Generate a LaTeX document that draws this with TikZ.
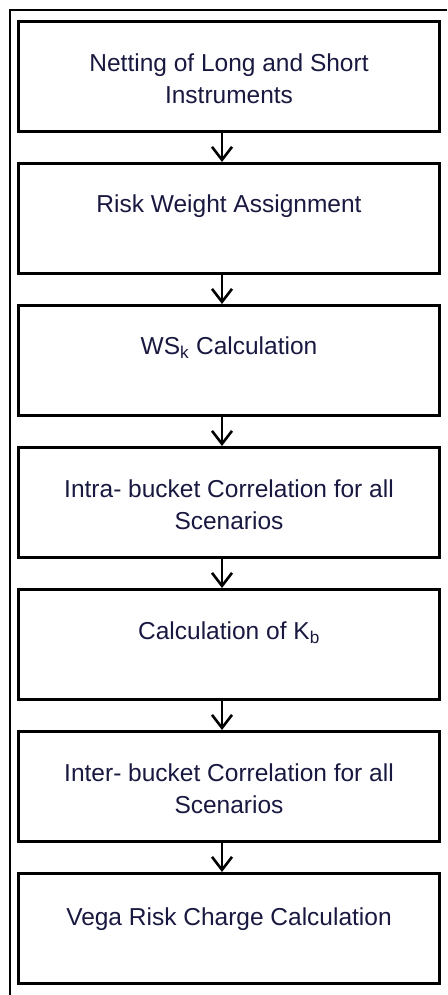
\documentclass[tikz,border=0pt]{standalone}
\usepackage{fontspec}
\setmainfont{Liberation Sans}
\usepackage{tikz}
\usetikzlibrary{
  % tips of the connectors
  arrows.meta,%
  positioning
}
\definecolor{textnavy}{RGB}{24,24,64}
\tikzset{>={Straight Barb[length=13pt,width=20pt,line width=2.6pt]}}
\tikzset{font=\fontsize{24.5}{32}\selectfont}
\tikzset{stepbox/.style={draw, line width=3pt, minimum width=421pt,
    minimum height=110pt, inner sep=0pt},
  steptext/.style={text=textnavy, align=center, inner sep=0pt},
  flowarrow/.style={->, line width=2pt}}

\begin{document}
\begin{tikzpicture}[x=1pt, y=-1pt]
          \useasboundingbox (0,0) rectangle (447,995);
          % outer frame, cut off at the right and at the bottom
          \draw[line width=2pt] (9.5,995) -- (9.5,10.5) -- (447,10.5);
          % the boxes
          \node[stepbox] (b1) at (229,76.5) {};
          \node[stepbox, below=29pt of b1] (b2) {};
          \node[stepbox, below=29pt of b2] (b3) {};
          \node[stepbox, below=29pt of b3] (b4) {};
          \node[stepbox, below=29pt of b4] (b5) {};
          \node[stepbox, below=29pt of b5] (b6) {};
          \node[stepbox, below=29pt of b6] (b7) {};
          % texts, set at the top of each box
          \node[steptext, below=34pt of b1.north] (t1) {Netting of Long and Short\\Instruments};
          \node[steptext, below=33pt of b2.north] (t2) {Risk Weight Assignment};
          \node[steptext, below=33pt of b3.north] (t3) {WS\textsubscript{k} Calculation};
          \node[steptext, below=34pt of b4.north] (t4) {Intra- bucket Correlation for all\\Scenarios};
          \node[steptext, below=34pt of b5.north] (t5) {Calculation of K\textsubscript{b}};
          \node[steptext, below=34pt of b6.north] (t6) {Inter- bucket Correlation for all\\Scenarios};
          \node[steptext, below=36pt of b7.north] (t7) {Vega Risk Charge Calculation};
          % connectors
          \foreach \from/\to in {b1/b2, b2/b3, b3/b4, b4/b5, b5/b6, b6/b7}
            \draw[flowarrow] ([xshift=-7pt]\from.south) -- ([xshift=-7pt]\to.north);
        \end{tikzpicture}
\end{document}
